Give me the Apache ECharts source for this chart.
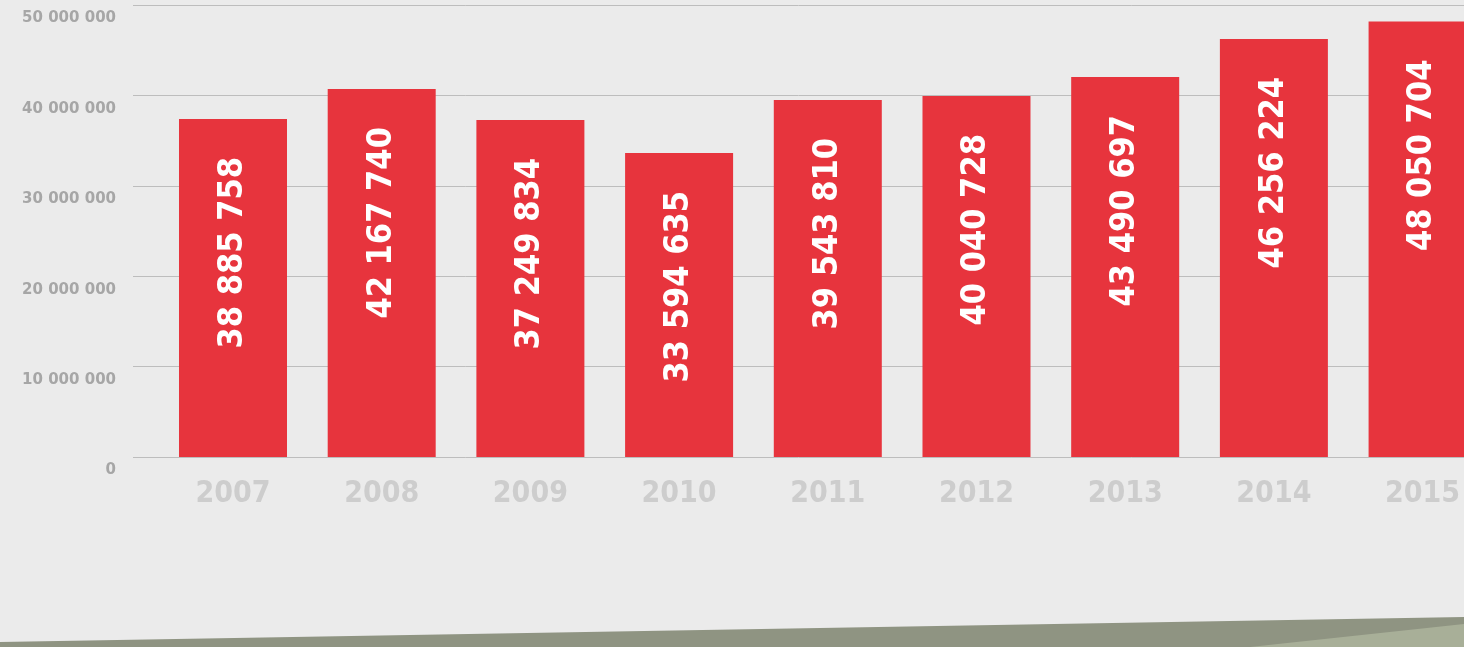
<!DOCTYPE html>
<html><head><meta charset="utf-8">
<style>html,body{margin:0;padding:0;background:#ebebeb;}#c{width:1464px;height:647px;}</style>
<script src="https://cdn.jsdelivr.net/npm/echarts@6/dist/echarts.min.js"></script>
</head><body><div id="c"></div>
<script>
var years = ['2007','2008','2009','2010','2011','2012','2013','2014','2015'];
// printed numbers on bars
var values = [38885758, 42167740, 37249834, 33594635, 39543810, 40040728, 43490697, 46256224, 48050704];
// bar heights as drawn in the picture
var barHeights = [37400000, 40700000, 37280000, 33630000, 39500000, 39930000, 42040000, 46240000, 48170000];
var yTicks = [0, 10000000, 20000000, 30000000, 40000000, 50000000];

function fmt(n){ return String(n).replace(/\B(?=(\d{3})+(?!\d))/g, ' '); }

var idx = years.map(function(_, i){ return i; });
var chart = echarts.init(document.getElementById('c'));
chart.setOption({
  backgroundColor: '#ebebeb',
  animation: false,
  grid: {left: 133, top: 5, height: 452, right: 0},
  xAxis: {
    type: 'value', min: -0.6725, max: 8.2785,
    axisLine: {show: false}, axisTick: {show: false}, splitLine: {show: false},
    axisLabel: {customValues: idx, showMinLabel: true, showMaxLabel: true, hideOverlap: false,
      color: '#cdcdcd', fontFamily: 'DejaVu Sans Condensed', fontWeight: 'bold', fontSize: 30, margin: 22,
      formatter: function(v){ var i = Math.round(v); return years[i] || ''; }}
  },
  yAxis: {
    type: 'value', min: yTicks[0], max: yTicks[yTicks.length-1], interval: 10000000,
    axisLine: {show: false}, axisTick: {show: false},
    splitLine: {lineStyle: {color: '#bdbdbd', width: 1}},
    axisLabel: {color: '#a6a6a6', fontFamily: 'DejaVu Sans', fontWeight: 'bold', fontSize: 15, margin: 17,
      verticalAlign: 'top', padding: [6, 0, 0, 0],
      formatter: function(v){ return fmt(v); }}
  },
  series: [{
    type: 'bar', barWidth: 108,
    data: barHeights.map(function(h, i){ return [i, h]; }),
    itemStyle: {color: '#e7343d'},
    label: {show: true, position: 'insideTop', rotate: 90, align: 'right', verticalAlign: 'middle',
      distance: 38, color: '#ffffff', fontFamily: 'DejaVu Sans Condensed', fontWeight: 'bold', fontSize: 34,
      formatter: function(p){ return fmt(values[p.dataIndex]); }}
  }],
  graphic: [
    {type: 'polygon', silent: true, shape: {points: [[0,642],[1464,617],[1464,647],[0,647]]}, style: {fill: '#8f9482'}},
    {type: 'polygon', silent: true, shape: {points: [[1250,647],[1464,624],[1464,647]]}, style: {fill: '#a8af98'}}
  ]
});
</script></body></html>
